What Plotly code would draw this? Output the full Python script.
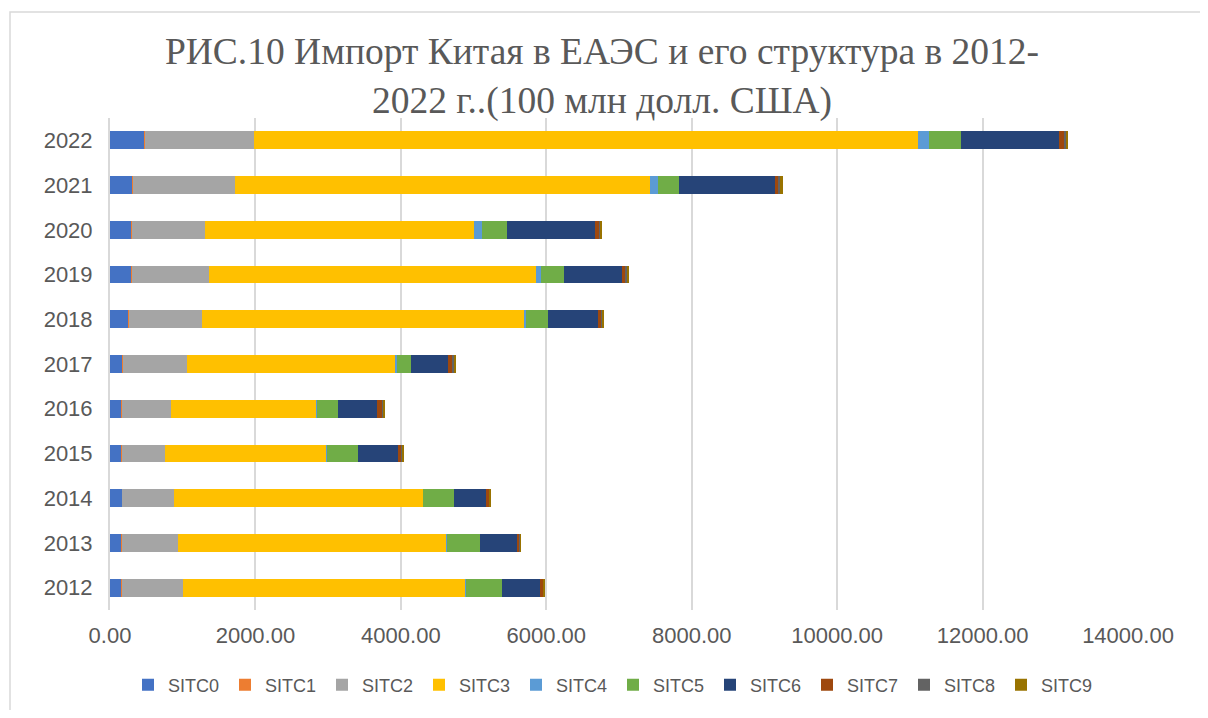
import plotly.graph_objects as go

years = ["2012", "2013", "2014", "2015", "2016", "2017", "2018", "2019", "2020", "2021", "2022"]
series_names = ["SITC0", "SITC1", "SITC2", "SITC3", "SITC4", "SITC5", "SITC6", "SITC7", "SITC8", "SITC9"]

sitc0 = [155, 155, 165, 155, 160, 170, 255, 295, 295, 315, 475]
sitc1 = [5, 5, 5, 5, 5, 5, 5, 5, 5, 5, 5]
sitc2 = [840, 770, 715, 600, 673, 890, 1010, 1055, 1000, 1405, 1495]
sitc3 = [3890, 3695, 3420, 2220, 2005, 2860, 4425, 4510, 3705, 5705, 9135]
sitc4 = [5, 5, 5, 5, 5, 20, 20, 60, 105, 105, 150]
sitc5 = [490, 460, 420, 425, 290, 195, 305, 320, 345, 295, 450]
sitc6 = [535, 520, 435, 545, 535, 510, 685, 790, 1220, 1320, 1345]
sitc7 = [35, 22, 48, 60, 70, 55, 50, 50, 55, 50, 75]
sitc8 = [10, 8, 10, 10, 15, 20, 15, 20, 15, 20, 15]
sitc9 = [8, 10, 18, 15, 25, 30, 25, 30, 15, 35, 35]

x_ticks = [0, 2000, 4000, 6000, 8000, 10000, 12000, 14000]

colors = ["#4472C4", "#ED7D31", "#A5A5A5", "#FFC000", "#5B9BD5",
          "#70AD47", "#264478", "#9E480E", "#636363", "#997300"]

all_series = [sitc0, sitc1, sitc2, sitc3, sitc4, sitc5, sitc6, sitc7, sitc8, sitc9]

fig = go.Figure()
for name, vals, col in zip(series_names, all_series, colors):
    fig.add_trace(go.Bar(
        y=years, x=vals, name=name, orientation="h",
        marker=dict(color=col, line=dict(width=0)),
    ))

# page has an 8px body margin; figure coordinates = page coordinates - 8
OFF = 8
W, H = 1208 - 2 * OFF, 718 - 2 * OFF
ml, mt = 110 - OFF, 118 - OFF
plot_right, plot_bottom = 1128 - OFF, 610 - OFF
mr, mb = W - plot_right, H - plot_bottom
pw = W - ml - mr
ph = H - mt - mb

def px_to_paper_x(px):
    return (px - OFF - ml) / pw

def py_to_paper_y(py):
    return (H - mb - (py - OFF)) / ph

sans = "Liberation Sans, Arial, sans-serif"

fig.update_layout(
    width=W, height=H,
    margin=dict(l=ml, r=mr, t=mt, b=mb, autoexpand=False),
    barmode="stack",
    bargap=0.6,
    paper_bgcolor="white",
    plot_bgcolor="white",
    title=dict(
        text="РИС.10 Импорт Китая в ЕАЭС и его структура в 2012-<br>2022 г..(100 млн долл. США)",
        x=(602 - OFF) / W, xanchor="center",
        y=1 - 56 / H, yanchor="top",
        font=dict(family="Liberation Serif, Times New Roman, serif", size=37.5, color="#595959"),
    ),
    xaxis=dict(
        range=[0, 14000],
        tickvals=x_ticks,
        tickformat=".2f",
        showgrid=True, gridcolor="#d9d9d9", gridwidth=2,
        zeroline=False, showline=False,
        tickfont=dict(family=sans, size=22, color="#595959"),
        ticks="", ticklabelstandoff=10, automargin=False,
    ),
    yaxis=dict(
        type="category",
        categoryorder="array", categoryarray=years,
        showgrid=False, zeroline=False,
        showline=True, linecolor="#d9d9d9", linewidth=2,
        tickfont=dict(family=sans, size=22, color="#595959"),
        ticks="", ticklabelstandoff=11, automargin=False,
    ),
    legend=dict(
        orientation="h", x=px_to_paper_x(613), xanchor="center", y=py_to_paper_y(685), yanchor="middle",
        font=dict(family=sans, size=18, color="#595959"),
        traceorder="normal",
        itemwidth=30,
        entrywidth=52, entrywidthmode="pixels",
    ),
    shapes=[dict(
        type="rect", xref="paper", yref="paper",
        x0=px_to_paper_x(10), x1=px_to_paper_x(1215),
        y0=py_to_paper_y(725), y1=py_to_paper_y(12),
        line=dict(color="#d9d9d9", width=1.5), fillcolor="rgba(0,0,0,0)",
        layer="below",
    )],
)

fig.write_html("out.html")
